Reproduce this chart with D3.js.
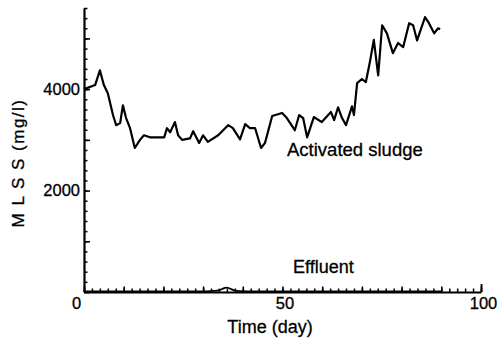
<!DOCTYPE html>
<html>
<head>
<meta charset="utf-8">
<script src="https://cdn.jsdelivr.net/npm/d3@7"></script>
<style>
  html, body { margin: 0; padding: 0; background: #fff; }
  svg { display: block; font-family: "Liberation Sans", Arial, sans-serif; }
  .axis path, .axis line { stroke: #000; }
  .axis text { fill: #000; }
</style>
</head>
<body>
<svg id="chart" width="497" height="342"></svg>
<script>
// MLSS over time: activated sludge and effluent (day, mg/l)
const sludgeDays = [0, 2.8, 4.0, 5.0, 6.0, 7.3, 8.1, 9.1, 9.8, 10.6, 11.6, 12.8, 14.1, 15.1, 16.6,
  20.2, 20.9, 21.7, 22.9, 23.7, 24.7, 26.7, 27.5, 29.0, 30.0, 31.2, 33.8, 36.3, 37.5, 39.3,
  40.6, 41.8, 43.1, 44.6, 45.6, 47.4, 49.9, 51.1, 53.1, 54.2, 55.2, 56.2, 57.9, 59.9, 62.2,
  63.0, 64.0, 65.0, 66.0, 67.5, 68.0, 68.8, 70.0, 71.0, 72.0, 73.0, 74.1, 75.1, 76.3, 77.8,
  79.1, 80.4, 81.9, 82.9, 83.9, 85.9, 86.9, 88.2, 89.2, 89.7];
const sludgeMLSS = [4000, 4080, 4370, 4080, 3920, 3490, 3290, 3330, 3680, 3430, 3230, 2840, 3000, 3090, 3050,
  3050, 3230, 3150, 3350, 3090, 3000, 3030, 3170, 2940, 3090, 2960, 3090, 3290, 3230, 3010,
  3310, 3230, 3230, 2840, 2940, 3470, 3530, 3430, 3190, 3490, 3430, 3050, 3450, 3350, 3550,
  3390, 3640, 3430, 3290, 3660, 3490, 4120, 4200, 4140, 4530, 4970, 4270, 5260, 5100, 4710,
  4910, 4830, 5300, 5260, 4960, 5420, 5300, 5100, 5200, 5180];

const effluentDays = [0, 10, 20, 30, 34, 35, 36, 37, 38, 40, 50, 60, 70, 80, 90];
const effluentMLSS = [10, 10, 10, 10, 20, 70, 95, 60, 20, 10, 10, 10, 10, 10, 10];

const xTickLabels = [0, 50, 100];
const yTickLabels = [2000, 4000];

const svg = d3.select("#chart");
const x = d3.scaleLinear().domain([0, 100]).range([84, 481]);
const y = d3.scaleLinear().domain([0, 5600]).range([292, 8]);

// minor / major ticks pointing into the plot
const xMinor = d3.range(0, 101, 2);
const xMajor = d3.range(0, 101, 10);
const yMinor = d3.range(0, 5601, 200);
const yMajor = d3.range(0, 5601, 1000);

svg.append("g").attr("class", "axis")
  .attr("transform", `translate(0,${y(0)})`)
  .call(d3.axisTop(x).tickValues(xMinor).tickSize(3.5).tickFormat("").tickSizeOuter(0))
  .call(g => g.selectAll("line").attr("stroke-width", 1.5))
  .call(g => g.select(".domain").attr("stroke-width", 2.2));
svg.append("g").attr("class", "axis")
  .attr("transform", `translate(0,${y(0)})`)
  .call(d3.axisTop(x).tickValues(xMajor).tickSize(5.5).tickFormat("").tickSizeOuter(0))
  .call(g => g.select(".domain").remove())
  .call(g => g.selectAll("line").attr("stroke-width", 1.6));
svg.append("g").attr("class", "axis")
  .attr("transform", `translate(0,${y(0)})`)
  .call(d3.axisTop(x).tickValues([100]).tickSize(8).tickFormat("").tickSizeOuter(0))
  .call(g => g.select(".domain").remove())
  .call(g => g.selectAll("line").attr("stroke-width", 1.8));

svg.append("g").attr("class", "axis")
  .attr("transform", `translate(${x(0)},0)`)
  .call(d3.axisRight(y).tickValues(yMinor).tickSize(3.5).tickFormat("").tickSizeOuter(0))
  .call(g => g.selectAll("line").attr("stroke-width", 1.5))
  .call(g => g.select(".domain").attr("stroke-width", 2.2));
svg.append("g").attr("class", "axis")
  .attr("transform", `translate(${x(0)},0)`)
  .call(d3.axisRight(y).tickValues(yMajor).tickSize(6).tickFormat("").tickSizeOuter(0))
  .call(g => g.select(".domain").remove())
  .call(g => g.selectAll("line").attr("stroke-width", 1.6));

// tick labels
svg.append("g").attr("class", "axis")
  .attr("transform", `translate(${x(0)},0)`)
  .call(d3.axisLeft(y).tickValues(yTickLabels).tickSize(0).tickPadding(4).tickFormat(d3.format("d")))
  .call(g => g.select(".domain").remove())
  .call(g => g.selectAll("text").attr("font-size", 16.5).attr("stroke", "#000").attr("stroke-width", 0.3));

svg.append("g").attr("class", "axis")
  .attr("transform", `translate(0,${y(0)})`)
  .call(d3.axisBottom(x).tickValues(xTickLabels).tickSize(0).tickPadding(5).tickFormat(d3.format("d")))
  .call(g => g.select(".domain").remove())
  .call(g => g.selectAll("text").attr("font-size", 16.5).attr("stroke", "#000").attr("stroke-width", 0.3)
    .attr("dx", d => d === 0 ? -8 : 2));

// series
const line = d3.line().x(d => x(d[0])).y(d => y(d[1])).curve(d3.curveLinear);
const sludge = d3.zip(sludgeDays, sludgeMLSS);
const effluent = d3.zip(effluentDays, effluentMLSS);

svg.append("path").datum(sludge)
  .attr("d", line).attr("fill", "none").attr("stroke", "#000")
  .attr("stroke-width", 2.2).attr("stroke-linejoin", "round");
svg.append("path").datum(effluent)
  .attr("d", line.curve(d3.curveBasis)).attr("fill", "none").attr("stroke", "#000")
  .attr("stroke-width", 1.8).attr("stroke-linejoin", "round");

// series labels
svg.append("text").attr("x", 287).attr("y", 156)
  .attr("font-size", 18.5).attr("stroke", "#000").attr("stroke-width", 0.3).text("Activated sludge");
svg.append("text").attr("x", 293).attr("y", 273)
  .attr("font-size", 18).attr("stroke", "#000").attr("stroke-width", 0.3).text("Effluent");

// axis titles
svg.append("text").attr("x", 270).attr("y", 333)
  .attr("text-anchor", "middle").attr("font-size", 18)
  .attr("stroke", "#000").attr("stroke-width", 0.3).text("Time  (day)");
svg.append("text")
  .attr("transform", "translate(24,163) rotate(-90)")
  .attr("text-anchor", "middle").attr("font-size", 17)
  .attr("letter-spacing", 1.5)
  .attr("stroke", "#000").attr("stroke-width", 0.3)
  .text("M L S S  (mg/l)");
</script>
</body>
</html>
